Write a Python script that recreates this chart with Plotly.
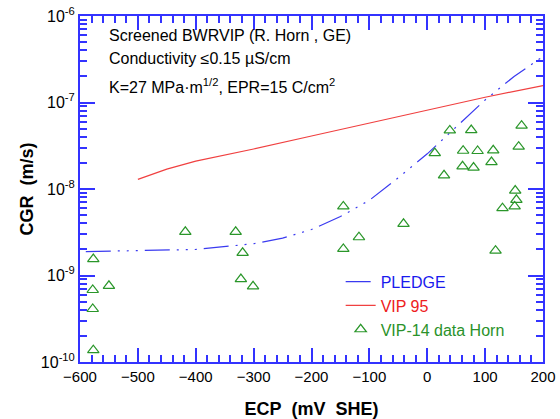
import plotly.graph_objects as go

# PLEDGE model curve
pledge_x = [-590, -500, -400, -300, -250, -200, -150, -100, -50, 0, 50, 100, 150, 200]
pledge_y = [1.89e-9, 1.93e-9, 2.0e-9, 2.33e-9, 2.7e-9, 3.4e-9, 4.8e-9, 7.4e-9,
            1.35e-8, 2.55e-8, 5.2e-8, 1.07e-7, 2.0e-7, 3.4e-7]

# VIP 95 disposition curve
vip95_x = [-500, -450, -400, -300, -200, -100, 0, 100, 200]
vip95_y = [1.29e-8, 1.7e-8, 2.1e-8, 2.9e-8, 4.1e-8, 5.8e-8, 8.2e-8, 1.15e-7, 1.57e-7]

# VIP-14 data (Horn)
data_x = [-577, -578, -578, -577, -550, -418, -331, -319, -322, -301,
          -145, -145, -118, -41, 13, 29, 39, 76, 62, 87, 114, 61, 80, 111,
          163, 158, 152, 154, 151, 130, 118]
data_y = [1.55e-9, 6.8e-10, 4.1e-10, 1.37e-10, 7.6e-10, 3.2e-9, 3.2e-9, 1.83e-9, 9.1e-10, 7.5e-10,
          2.03e-9, 6.3e-9, 2.77e-9, 3.96e-9, 2.6e-8, 1.44e-8, 4.75e-8, 4.8e-8, 2.77e-8, 2.75e-8, 2.8e-8,
          1.83e-8, 1.77e-8, 2.05e-8, 5.4e-8, 3.09e-8, 9.6e-9, 7.5e-9, 6.3e-9, 6.0e-9, 1.94e-9]

y_tickvals = [1e-10, 1e-9, 1e-8, 1e-7, 1e-6]
y_ticktext = ["10<sup>-10</sup>", "10<sup>-9</sup>", "10<sup>-8</sup>", "10<sup>-7</sup>", "10<sup>-6</sup>"]
y_minor = [m * 10.0 ** e for e in range(-10, -6) for m in range(2, 10)]

AXBLUE = "#3333ff"
GREEN = "#2a962a"
FONT = "Liberation Sans, Arial, sans-serif"
NB = "\u00a0"
X_RANGE = [-600, 200]
Y_RANGE = [-10, -6]

fig = go.Figure()
fig.add_trace(go.Scatter(
    x=pledge_x, y=pledge_y, mode="lines",
    name="<span style='color:#1a1aee'>PLEDGE</span>",
    line=dict(color="#3a3af0", width=1.2, dash="25px,7px,2px,7px,2px,7px,2px,7px"),
))
fig.add_trace(go.Scatter(
    x=vip95_x, y=vip95_y, mode="lines",
    name="<span style='color:#ee2020'>VIP 95</span>",
    line=dict(color="#f04040", width=1.2),
))
fig.add_trace(go.Scatter(
    x=data_x, y=data_y, mode="markers",
    name="<span style='color:#2a922a'>VIP-14 data Horn</span>",
    marker=dict(symbol="triangle-up-open", size=10, color=GREEN, line=dict(width=1.2, color=GREEN)),
))
# empty traces so that the tick-only overlay axes are bound to a subplot
for xa, ya in [("x2", "y2"), ("x3", "y3"), ("x4", "y4")]:
    fig.add_trace(go.Scatter(x=[], y=[], xaxis=xa, yaxis=ya, showlegend=False,
                             hoverinfo="skip", mode="markers"))


def tick_axis(side, overlay, anchor, is_log, vals=None, dtick=None, length=7):
    d = dict(overlaying=overlay, anchor=anchor, side=side,
             ticks="inside", ticklen=length, tickwidth=1.5, tickcolor=AXBLUE,
             showticklabels=False, showline=False, showgrid=False, zeroline=False,
             automargin=False)
    if is_log:
        d.update(type="log", range=Y_RANGE)
    else:
        d.update(range=X_RANGE)
    if vals is not None:
        d.update(tickmode="array", tickvals=vals)
    else:
        d.update(tickmode="linear", tick0=-600, dtick=dtick)
    return d


fig.update_layout(
    template="none",
    width=560, height=419,
    margin=dict(l=80, r=17, t=16, b=57),
    paper_bgcolor="white", plot_bgcolor="rgba(0,0,0,0)",
    font=dict(family=FONT, size=15, color="black"),
    showlegend=True,
    legend=dict(x=0.563, y=0.281, xanchor="left", yanchor="top",
                bgcolor="rgba(0,0,0,0)", font=dict(size=16), tracegroupgap=0),
    xaxis=dict(
        range=X_RANGE, tickmode="linear", tick0=-600, dtick=100,
        ticks="inside", ticklen=14, tickwidth=1.5,
        tickcolor=AXBLUE, showline=True, linecolor=AXBLUE, linewidth=2, mirror=True,
        showgrid=False, zeroline=False, automargin=False,
        tickfont=dict(size=15),
        title=dict(text=f"<b>ECP{NB}{NB}(mV{NB}{NB}SHE)</b>", font=dict(size=18)),
    ),
    yaxis=dict(
        type="log", range=Y_RANGE, tickmode="array", tickvals=y_tickvals, ticktext=y_ticktext,
        ticks="inside", ticklen=15, tickwidth=1.5, tickcolor=AXBLUE,
        showline=True, linecolor=AXBLUE, linewidth=2, mirror=True,
        showgrid=False, zeroline=False, automargin=False,
        tickfont=dict(size=16),
        title=dict(text=f"<b>CGR{NB}{NB}(m/s)</b>", font=dict(size=18)),
    ),
    # minor ticks bottom / left
    xaxis2=tick_axis("bottom", "x", "y", False, dtick=20, length=7),
    yaxis2=tick_axis("left", "y", "x", True, vals=y_minor, length=7),
    # major ticks top / right
    xaxis3=tick_axis("top", "x", "y", False, dtick=100, length=14),
    yaxis3=tick_axis("right", "y", "x", True, vals=y_tickvals, length=15),
    # minor ticks top / right
    xaxis4=tick_axis("top", "x", "y", False, dtick=20, length=7),
    yaxis4=tick_axis("right", "y", "x", True, vals=y_minor, length=7),
)

ann = [
    ("Screened BWRVIP (R. Horn , GE)", 0.943),
    ("Conductivity \u22640.15 \u00b5S/cm", 0.877),
    ("K=27 MPa\u00b7m<sup>1/2</sup>, EPR=15 C/cm<sup>2</sup>", 0.797),
]
for txt, yy in ann:
    fig.add_annotation(text=txt, xref="paper", yref="paper", x=0.058, y=yy,
                       xanchor="left", yanchor="middle", showarrow=False,
                       font=dict(size=16, color="black", family=FONT))

fig.write_html("out.html")
